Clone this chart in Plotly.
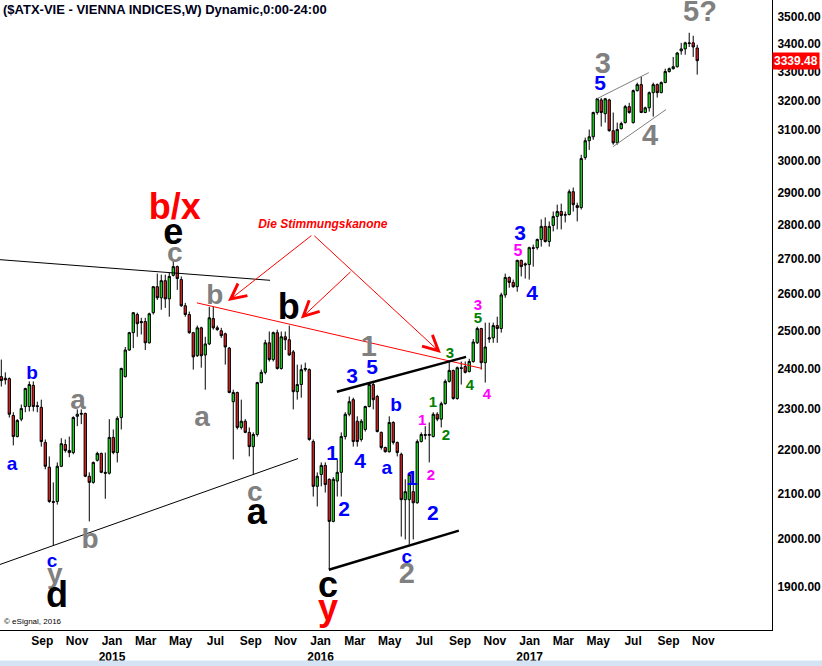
import math
import pandas as pd
import plotly.graph_objects as go

# ---------------- data (weekly ATX candles) ----------------
open_ = [2380, 2376, 2375, 2283, 2232, 2274, 2305, 2305, 2358, 2307,
         2303, 2218, 2160, 2082, 2082, 2162, 2213, 2199, 2194, 2281,
         2286, 2288, 2139, 2125, 2176, 2192, 2148, 2146, 2230, 2194,
         2278, 2380, 2449, 2495, 2544, 2525, 2525, 2468, 2549, 2621,
         2590, 2638, 2587, 2653, 2678, 2641, 2568, 2544, 2495, 2434,
         2508, 2436, 2465, 2533, 2508, 2500, 2492, 2454, 2317, 2340,
         2254, 2269, 2242, 2208, 2237, 2365, 2391, 2468, 2424, 2495,
         2401, 2484, 2476, 2444, 2342, 2360, 2398, 2398, 2220, 2116,
         2143, 2164, 2132, 2038, 2128, 2148, 2232, 2286, 2322, 2269,
         2225, 2249, 2305, 2360, 2330, 2242, 2206, 2196, 2266, 2218,
         2190, 2086, 2086, 2104, 2079, 2220, 2237, 2235, 2232, 2286,
         2274, 2312, 2368, 2396, 2325, 2403, 2406, 2393, 2419, 2468,
         2506, 2416, 2478, 2481, 2514, 2506, 2598, 2647, 2633, 2621,
         2696, 2686, 2684, 2733, 2733, 2757, 2796, 2751, 2799, 2826,
         2841, 2832, 2832, 2902, 2859, 2853, 3010, 3065, 3078, 3159,
         3202, 3155, 3202, 3098, 3058, 3105, 3125, 3179, 3125, 3234,
         3255, 3159, 3175, 3227, 3255, 3227, 3262, 3301, 3311, 3318,
         3375, 3382, 3404, 3404, 3385]
high = [2424, 2391, 2378, 2291, 2274, 2310, 2352, 2368, 2368, 2317,
        2322, 2225, 2185, 2125, 2171, 2228, 2225, 2232, 2281, 2298,
        2298, 2290, 2148, 2173, 2196, 2194, 2194, 2274, 2249, 2281,
        2403, 2457, 2497, 2551, 2549, 2535, 2535, 2549, 2623, 2658,
        2655, 2655, 2661, 2698, 2681, 2650, 2576, 2552, 2497, 2514,
        2511, 2484, 2565, 2565, 2514, 2508, 2495, 2457, 2347, 2342,
        2322, 2274, 2254, 2242, 2367, 2398, 2476, 2498, 2498, 2503,
        2498, 2498, 2514, 2449, 2411, 2411, 2416, 2401, 2225, 2148,
        2171, 2171, 2134, 2137, 2178, 2242, 2291, 2330, 2327, 2281,
        2274, 2307, 2365, 2365, 2334, 2244, 2208, 2281, 2269, 2220,
        2194, 2132, 2148, 2150, 2225, 2242, 2257, 2266, 2291, 2291,
        2317, 2373, 2419, 2398, 2406, 2419, 2419, 2426, 2478, 2511,
        2508, 2522, 2522, 2522, 2538, 2604, 2658, 2650, 2641, 2698,
        2698, 2690, 2736, 2742, 2760, 2817, 2823, 2811, 2841, 2862,
        2865, 2841, 2909, 2915, 2868, 3019, 3075, 3102, 3162, 3209,
        3209, 3209, 3206, 3159, 3125, 3128, 3185, 3192, 3238, 3262,
        3283, 3179, 3231, 3262, 3259, 3266, 3311, 3315, 3353, 3371,
        3404, 3408, 3441, 3430, 3397]
low = [2355, 2360, 2278, 2211, 2230, 2269, 2291, 2293, 2293, 2291,
       2208, 2155, 2079, 1986, 2075, 2160, 2194, 2183, 2190, 2257,
       2262, 2137, 2038, 2122, 2173, 2146, 2088, 2143, 2190, 2171,
       2249, 2378, 2447, 2454, 2484, 2490, 2449, 2466, 2544, 2584,
       2557, 2562, 2538, 2650, 2612, 2565, 2538, 2492, 2398, 2431,
       2403, 2347, 2462, 2503, 2500, 2481, 2411, 2338, 2178, 2249,
       2249, 2240, 2185, 2143, 2232, 2363, 2386, 2419, 2419, 2398,
       2398, 2449, 2434, 2298, 2322, 2327, 2393, 2222, 2093, 2071,
       2116, 2102, 1936, 2036, 2093, 2093, 2225, 2281, 2208, 2208,
       2220, 2244, 2303, 2298, 2242, 2201, 2194, 2194, 2213, 2185,
       2005, 1999, 1988, 1999, 2077, 2218, 2225, 2171, 2230, 2269,
       2254, 2310, 2365, 2322, 2322, 2360, 2388, 2391, 2416, 2465,
       2398, 2365, 2468, 2468, 2468, 2495, 2590, 2618, 2618, 2607,
       2650, 2644, 2641, 2678, 2727, 2736, 2748, 2736, 2781, 2787,
       2787, 2808, 2829, 2841, 2811, 2847, 3003, 3035, 3068, 3152,
       3112, 3125, 3095, 3052, 3052, 3102, 3122, 3155, 3122, 3231,
       3157, 3157, 3162, 3145, 3210, 3225, 3260, 3297, 3308, 3315,
       3361, 3361, 3389, 3353, 3290]
close = [2370, 2372, 2286, 2232, 2271, 2300, 2350, 2360, 2305, 2305,
         2220, 2162, 2082, 2080, 2162, 2215, 2199, 2194, 2278, 2286,
         2288, 2139, 2125, 2171, 2192, 2148, 2146, 2230, 2194, 2276,
         2401, 2449, 2495, 2549, 2519, 2522, 2468, 2546, 2621, 2590,
         2638, 2587, 2650, 2678, 2644, 2568, 2544, 2495, 2431, 2508,
         2434, 2465, 2535, 2508, 2503, 2487, 2457, 2340, 2340, 2254,
         2269, 2242, 2208, 2237, 2365, 2391, 2468, 2424, 2495, 2401,
         2484, 2476, 2436, 2342, 2360, 2398, 2401, 2225, 2116, 2139,
         2164, 2120, 2038, 2132, 2148, 2232, 2286, 2317, 2220, 2220,
         2269, 2305, 2360, 2322, 2244, 2206, 2196, 2266, 2218, 2194,
         2086, 2104, 2143, 2079, 2220, 2237, 2235, 2237, 2286, 2274,
         2312, 2368, 2396, 2325, 2403, 2401, 2391, 2419, 2470, 2506,
         2416, 2457, 2481, 2514, 2506, 2598, 2647, 2633, 2621, 2696,
         2678, 2683, 2733, 2731, 2757, 2796, 2751, 2796, 2826, 2841,
         2829, 2830, 2902, 2862, 2853, 3007, 3065, 3078, 3159, 3206,
         3159, 3206, 3098, 3058, 3102, 3122, 3179, 3159, 3234, 3255,
         3159, 3175, 3227, 3255, 3227, 3262, 3301, 3311, 3318, 3367,
         3382, 3404, 3402, 3389, 3339.48]

first_week = "2014-07-14"
weeks = pd.date_range(first_week, periods=len(close), freq="7D")

y_ticks = [1900, 2000, 2100, 2200, 2300, 2400, 2500, 2600, 2700, 2800,
           2900, 3000, 3100, 3200, 3300, 3400, 3500]
y_ticktext = [f"{v:.2f}" for v in y_ticks]

month_ticks = ["2014-09-01", "2014-11-01", "2015-01-01", "2015-03-01", "2015-05-01",
               "2015-07-01", "2015-09-01", "2015-11-01", "2016-01-01", "2016-03-01",
               "2016-05-01", "2016-07-01", "2016-09-01", "2016-11-01", "2017-01-01",
               "2017-03-01", "2017-05-01", "2017-07-01", "2017-09-01", "2017-11-01"]
month_text = ["Sep", "Nov", "Jan<br>2015", "Mar", "May", "Jul", "Sep", "Nov",
              "Jan<br>2016", "Mar", "May", "Jul", "Sep", "Nov", "Jan<br>2017",
              "Mar", "May", "Jul", "Sep", "Nov"]

last_price = close[-1]


def wk(k):
    """date at a (fractional) weekly bar position"""
    t = pd.Timestamp(first_week) + pd.Timedelta(days=7 * k)
    return t.strftime("%Y-%m-%d %H:%M:%S")


GRAY = "#808080"
BLUE = "#0000ff"
MAG = "#ff00ff"
GRN = "#008000"
RED = "#ff0000"
BLK = "#000000"
FONT = "Arial, Liberation Sans, sans-serif"

# wave labels: (text, bar position, price, colour, size)
labels = [
    ("b/x", 43.4, 2847, RED, 36), ("e", 43.0, 2770, BLK, 36), ("c", 43.4, 2712, GRAY, 28),
    ("b", 53.4, 2592, GRAY, 28), ("b", 71.9, 2556, BLK, 36),
    ("1", 91.9, 2452, GRAY, 29), ("5", 92.7, 2401, BLUE, 21), ("3", 87.7, 2378, BLUE, 21),
    ("b", 98.7, 2306, BLUE, 19), ("1", 82.7, 2190, BLUE, 21), ("4", 89.7, 2171, BLUE, 21),
    ("a", 96.4, 2154, BLUE, 19), ("1", 102.7, 2132, BLUE, 21), ("2", 85.7, 2062, BLUE, 21),
    ("2", 107.9, 2053, BLUE, 21),
    ("1", 105.2, 2269, MAG, 15), ("2", 107.4, 2139, MAG, 15),
    ("1", 107.9, 2312, GRN, 15), ("2", 111.2, 2232, GRN, 15), ("3", 112.2, 2439, GRN, 15),
    ("4", 117.2, 2355, GRN, 15), ("5", 119.2, 2530, GRN, 15),
    ("3", 119.2, 2568, MAG, 15), ("4", 121.4, 2332, MAG, 15),
    ("c", 101.4, 1958, BLUE, 19), ("2", 101.4, 1922, GRAY, 29),
    ("c", 81.7, 1898, BLK, 36), ("y", 81.7, 1852, RED, 36),
    ("3", 129.7, 2772, BLUE, 21), ("5", 129.2, 2721, MAG, 16), ("4", 132.7, 2598, BLUE, 21),
    ("3", 150.4, 3322, GRAY, 29), ("5", 149.7, 3255, BLUE, 21), ("4", 162.2, 3075, GRAY, 29),
    ("5?", 174.7, 3511, GRAY, 29),
    ("b", 7.7, 2386, BLUE, 19), ("a", 2.7, 2165, BLUE, 19), ("a", 19.2, 2316, GRAY, 28),
    ("a", 50.2, 2275, GRAY, 28), ("c", 63.4, 2098, GRAY, 28), ("a", 63.9, 2052, BLK, 36),
    ("b", 22.2, 1996, GRAY, 28), ("c", 12.7, 1950, BLUE, 19), ("y", 13.4, 1922, GRAY, 28),
    ("d", 13.9, 1878, BLK, 36),
]

# trend lines: (start bar, start price, end bar, end price, colour, width)
trend_lines = [
    (-0.33, 2698, 67.2, 2639, BLK, 1),
    (-0.33, 1946, 74.2, 2180, BLK, 1),
    (48.9, 2576, 120.2, 2401, RED, 1),
    (83.9, 2342, 116.2, 2431, BLK, 2.5),
    (81.9, 1935, 114.4, 2018, BLK, 2.5),
    (148.9, 3206, 161.9, 3297, GRAY, 1),
    (152.9, 3045, 166.2, 3169, GRAY, 1),
]

# arrows: (head bar, head price, tail bar, tail price)
arrows = [
    (56.7, 2581, 77.9, 2772),
    (109.9, 2441, 77.9, 2772),
    (74.9, 2533, 87.7, 2667),
]

# ---------------- figure ----------------
fig = go.Figure()

fig.add_trace(go.Candlestick(
    x=weeks, open=open_, high=high, low=low, close=close,
    increasing=dict(fillcolor="#22dd22", line=dict(color="#000000", width=1)),
    decreasing=dict(fillcolor="#dd2222", line=dict(color="#000000", width=1)),
    whiskerwidth=0, showlegend=False, hoverinfo="skip",
))

for (k0, p0, k1, p1, col, w) in trend_lines:
    fig.add_trace(go.Scatter(x=[wk(k0), wk(k1)], y=[p0, p1], mode="lines",
                             line=dict(color=col, width=w), showlegend=False,
                             hoverinfo="skip"))

fig.add_trace(go.Scatter(
    x=[wk(l[1]) for l in labels], y=[l[2] for l in labels],
    text=[l[0] for l in labels], mode="text", textposition="middle center",
    textfont=dict(family=FONT, color=[l[3] for l in labels],
                  size=[l[4] for l in labels], weight="bold"),
    showlegend=False, hoverinfo="skip"))

fig.add_trace(go.Scatter(
    x=[wk(80.4)], y=[2799], text=["Die Stimmungskanone"], mode="text",
    textposition="middle center",
    textfont=dict(family=FONT, color=RED, size=12, weight="bold", style="italic"),
    showlegend=False, hoverinfo="skip"))

annotations = []
for (hk, hp, tk, tp) in arrows:
    annotations.append(dict(
        x=wk(hk), y=math.log10(hp), xref="x", yref="y",
        ax=wk(tk), ay=math.log10(tp), axref="x", ayref="y",
        text="", showarrow=True, arrowhead=5, arrowsize=3, arrowwidth=1,
        arrowcolor=RED, standoff=0, startstandoff=0))

annotations.append(dict(
    x=0, y=1, xref="paper", yref="paper", xanchor="left", yanchor="top",
    text="($ATX-VIE - VIENNA INDICES,W) Dynamic,0:00-24:00", showarrow=False,
    font=dict(family=FONT, size=13, color="#00001a", weight="bold"), xshift=1))
annotations.append(dict(
    x=0, y=0.013, xref="paper", yref="paper", xanchor="left", yanchor="middle",
    text="© eSignal, 2016", showarrow=False,
    font=dict(family=FONT, size=8, color="#000000"), xshift=2))
annotations.append(dict(
    x=1, y=math.log10(last_price), xref="paper", yref="y", xanchor="left",
    yanchor="middle", text=f"{last_price:.2f}", showarrow=False, bgcolor="#ff0000",
    borderpad=1,
    font=dict(family=FONT, size=12, color="#ffffff", weight="bold")))

# light blue strip along the bottom edge of the window
shapes = [dict(type="rect", xref="paper", yref="paper", x0=-0.01, x1=1.1,
               y0=-0.062, y1=-0.0485, fillcolor="#d4e4f4", line=dict(width=0),
               layer="above")]

fig.update_layout(
    width=822, height=666,
    margin=dict(l=0, r=50, t=0, b=36, autoexpand=False),
    paper_bgcolor="white", plot_bgcolor="white",
    showlegend=False, boxgap=0.18,
    annotations=annotations, shapes=shapes,
    xaxis=dict(
        type="date", range=[wk(-0.325), wk(192.7)],
        rangeslider=dict(visible=False),
        showgrid=False, zeroline=False, showline=True, linecolor="black", linewidth=1,
        ticks="", tickvals=month_ticks, ticktext=month_text, ticklabelshift=13,
        tickfont=dict(family=FONT, size=12, color="#000000", weight="bold"),
    ),
    yaxis=dict(
        type="log", side="right",
        range=[math.log10(1814), math.log10(3564)],
        showgrid=False, zeroline=False, showline=True, linecolor="black", linewidth=1,
        ticks="", tickvals=y_ticks, ticktext=y_ticktext, ticklabelstandoff=2,
        tickfont=dict(family=FONT, size=12, color="#000000", weight="bold"),
    ),
)

fig.write_html("out.html",
               config={"displayModeBar": False, "staticPlot": True},
               post_script="document.body.style.margin='0';"
                           "document.body.style.overflow='hidden';")
